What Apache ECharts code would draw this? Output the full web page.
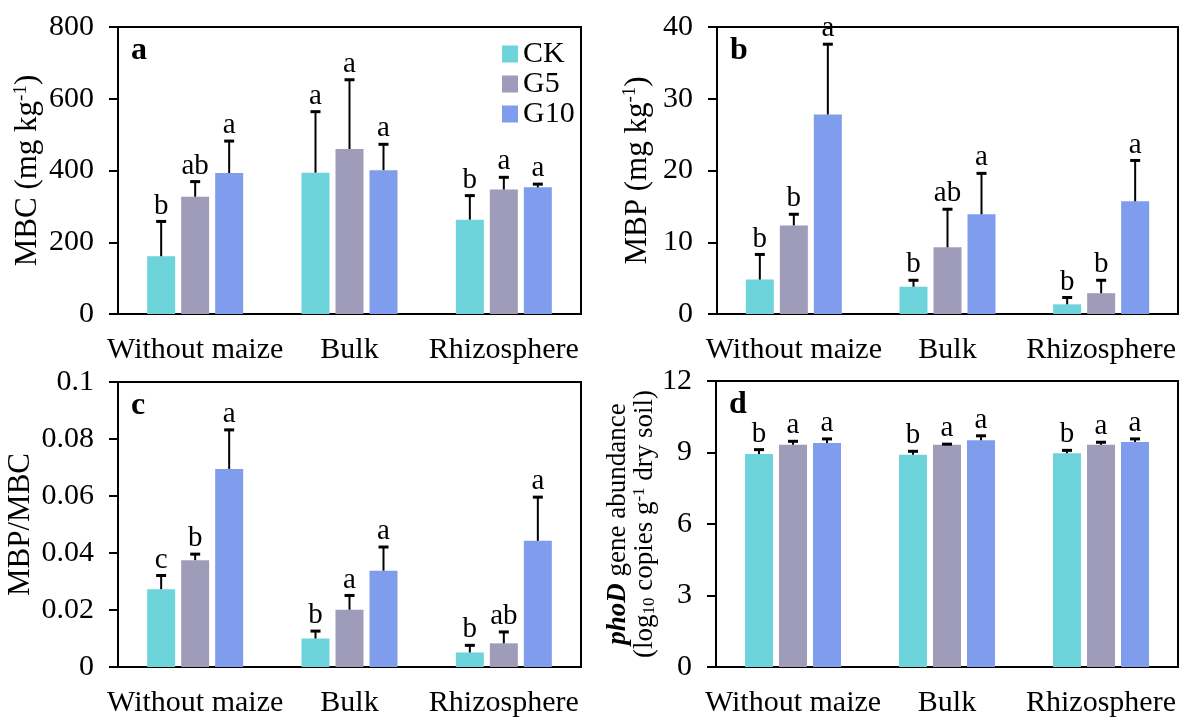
<!DOCTYPE html>
<html><head><meta charset="utf-8">
<script src="https://cdn.jsdelivr.net/npm/echarts@6/dist/echarts.min.js"></script>
<style>html,body{margin:0;padding:0;background:#fff}#c{width:1181px;height:719px}</style>
</head><body><div id="c"></div>
<script>
const categories = ['Without maize', 'Bulk', 'Rhizosphere'];
const groups = ['CK', 'G5', 'G10'];
const colors = ['#6DD4DC', '#9E9CB9', '#7F9DEC'];

// a: MBC (mg kg-1)
const mbcCK = [161, 394, 263];   const mbcCKsd = [97, 170, 67];
const mbcG5 = [327, 460, 347];   const mbcG5sd = [42, 193, 34];
const mbcG10 = [393, 401, 353];  const mbcG10sd = [89, 72, 9];
const mbcLetCK = ['b', 'a', 'b']; const mbcLetG5 = ['ab', 'a', 'a']; const mbcLetG10 = ['a', 'a', 'a'];

// b: MBP (mg kg-1)
const mbpCK = [4.8, 3.8, 1.35];   const mbpCKsd = [3.5, 0.9, 0.95];
const mbpG5 = [12.35, 9.3, 2.9];  const mbpG5sd = [1.55, 5.3, 1.8];
const mbpG10 = [27.8, 13.9, 15.7]; const mbpG10sd = [9.8, 5.7, 5.7];
const mbpLetCK = ['b', 'b', 'b']; const mbpLetG5 = ['b', 'ab', 'b']; const mbpLetG10 = ['a', 'a', 'a'];

// c: MBP/MBC
const ratCK = [0.0273, 0.0100, 0.0051];  const ratCKsd = [0.0048, 0.0026, 0.0025];
const ratG5 = [0.0375, 0.0201, 0.0083];  const ratG5sd = [0.0021, 0.0050, 0.0040];
const ratG10 = [0.0695, 0.0338, 0.0443]; const ratG10sd = [0.0137, 0.0083, 0.0153];
const ratLetCK = ['c', 'b', 'b']; const ratLetG5 = ['b', 'a', 'ab']; const ratLetG10 = ['a', 'a', 'a'];

// d: phoD gene abundance
const phoCK = [8.94, 8.91, 8.97];  const phoCKsd = [0.18, 0.14, 0.12];
const phoG5 = [9.33, 9.33, 9.32];  const phoG5sd = [0.14, 0.02, 0.11];
const phoG10 = [9.40, 9.51, 9.44]; const phoG10sd = [0.17, 0.19, 0.13];
const phoLetCK = ['b', 'b', 'b']; const phoLetG5 = ['a', 'a', 'a']; const phoLetG10 = ['a', 'a', 'a'];

const yMax = [800, 40, 0.1, 12];
const yInt = [200, 10, 0.02, 3];
const panelLabels = ['a', 'b', 'c', 'd'];

const FONT = '"Liberation Serif", "Times New Roman", serif';
const BAR_W = 28, GAP = 6;

const panels = [
  {means: [mbcCK, mbcG5, mbcG10], sds: [mbcCKsd, mbcG5sd, mbcG10sd], lets: [mbcLetCK, mbcLetG5, mbcLetG10]},
  {means: [mbpCK, mbpG5, mbpG10], sds: [mbpCKsd, mbpG5sd, mbpG10sd], lets: [mbpLetCK, mbpLetG5, mbpLetG10]},
  {means: [ratCK, ratG5, ratG10], sds: [ratCKsd, ratG5sd, ratG10sd], lets: [ratLetCK, ratLetG5, ratLetG10]},
  {means: [phoCK, phoG5, phoG10], sds: [phoCKsd, phoG5sd, phoG10sd], lets: [phoLetCK, phoLetG5, phoLetG10]}
];

const grids = [
  {left: 118, top: 27, width: 463, height: 287},
  {left: 717, top: 27, width: 461, height: 287},
  {left: 118, top: 382, width: 463, height: 285},
  {left: 716, top: 381, width: 462, height: 286}
];

const names = [
  'MBC (mg kg{sup|-1})',
  'MBP (mg kg{sup|-1})',
  'MBP/MBC',
  '{it|phoD} gene abundance\n(log{sub|10} copies g{sup|-1} dry soil)'
];
const nameGaps = [72, 62, 72, 49];
const nameSizes = [31, 31, 31, 27];

const option = {
  animation: false,
  backgroundColor: '#fff',
  textStyle: {fontFamily: FONT, color: '#000'},
  legend: {
    data: groups, orient: 'vertical', left: 497, top: 34,
    icon: 'rect', itemWidth: 16, itemHeight: 17, itemGap: 0,
    textStyle: {fontFamily: FONT, fontSize: 30, lineHeight: 29, color: '#000'}
  },
  grid: grids.map(g => Object.assign({show: true, borderColor: '#000', borderWidth: 2, containLabel: false}, g)),
  xAxis: grids.map((g, p) => ({
    type: 'category', gridIndex: p, data: categories,
    axisLine: {lineStyle: {color: '#000', width: 2}},
    axisTick: {length: 9, lineStyle: {color: '#000', width: 2}},
    axisLabel: {fontFamily: FONT, fontSize: 30, color: '#000', margin: 21, interval: 0}
  })),
  yAxis: grids.map((g, p) => ({
    type: 'value', gridIndex: p, min: 0, max: yMax[p], interval: yInt[p],
    name: names[p], nameLocation: 'middle', nameRotate: 90, nameGap: nameGaps[p],
    nameTextStyle: {
      fontFamily: FONT, fontSize: nameSizes[p], color: '#000', lineHeight: p === 3 ? 27 : 34, align: 'center',
      rich: {
        sup: {fontFamily: FONT, fontSize: p === 3 ? 17 : 19, verticalAlign: 'top', lineHeight: 18, color: '#000'},
        sub: {fontFamily: FONT, fontSize: 17, verticalAlign: 'bottom', lineHeight: 16, color: '#000'},
        it: {fontFamily: FONT, fontSize: nameSizes[p], fontStyle: 'italic', fontWeight: 'bold', color: '#000'}
      }
    },
    axisLine: {show: true, lineStyle: {color: '#000', width: 2}},
    axisTick: {show: true, length: 9, lineStyle: {color: '#000', width: 2}},
    splitLine: {show: false},
    axisLabel: {fontFamily: FONT, fontSize: 30, color: '#000', margin: 24}
  })),
  graphic: grids.map((g, p) => ({
    type: 'text', left: g.left + 13, top: g.top + 8,
    style: {text: panelLabels[p], font: 'bold 32px ' + FONT, fill: '#000'}
  })),
  series: []
};

panels.forEach((pn, p) => {
  groups.forEach((gname, s) => {
    option.series.push({
      type: 'bar', name: gname, xAxisIndex: p, yAxisIndex: p,
      data: pn.means[s], barWidth: BAR_W, barGap: (GAP / BAR_W * 100) + '%',
      itemStyle: {color: colors[s]}
    });
  });
  groups.forEach((gname, s) => {
    const offset = (s - 1) * (BAR_W + GAP);
    option.series.push({
      type: 'custom', xAxisIndex: p, yAxisIndex: p, clip: false, z: 5,
      data: pn.means[s].map((m, i) => [i, m, pn.sds[s][i]]),
      renderItem: function (params, api) {
        const ci = api.value(0), m = api.value(1), sd = api.value(2);
        const b = api.coord([ci, m]);
        const t = api.coord([ci, m + sd]);
        const x = b[0] + offset;
        return {
          type: 'group',
          children: [
            {type: 'line', shape: {x1: x, y1: b[1], x2: x, y2: t[1]}, style: {stroke: '#000', lineWidth: 2}},
            {type: 'line', shape: {x1: x - 5, y1: t[1], x2: x + 5, y2: t[1]}, style: {stroke: '#000', lineWidth: 3}},
            {type: 'text', style: {text: pn.lets[s][params.dataIndex], x: x, y: t[1] - 1,
              align: 'center', verticalAlign: 'bottom', textAlign: 'center', textVerticalAlign: 'bottom',
              font: '29px ' + FONT, fill: '#000'}}
          ]
        };
      }
    });
  });
});

const chart = echarts.init(document.getElementById('c'), null, {renderer: 'canvas'});
chart.setOption(option);
</script></body></html>
